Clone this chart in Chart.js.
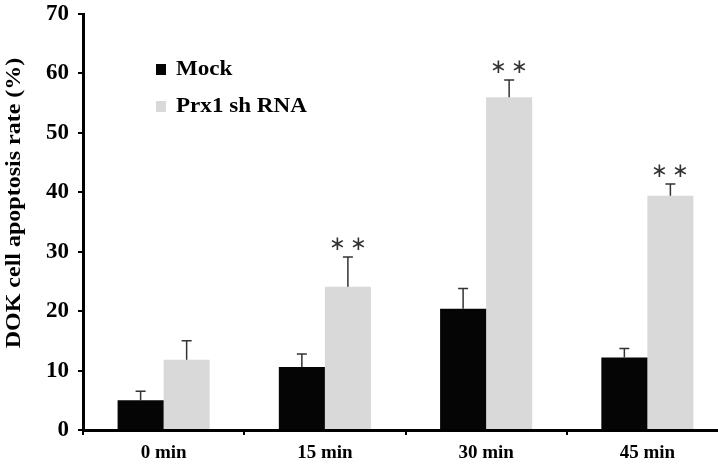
<!DOCTYPE html>
<html>
<head>
<meta charset="utf-8">
<script src="https://cdn.jsdelivr.net/npm/chart.js@4"></script>
<style>
  html, body { margin: 0; padding: 0; background: #fff; overflow: hidden; }
  /* the original plot runs a little past the right edge of the image */
  #wrap { width: 728px; height: 466px; }
</style>
</head>
<body>
<div id="wrap"><canvas id="c"></canvas></div>
<script>
// values
const categories = ['0 min', '15 min', '30 min', '45 min'];
const mockValues = [5.0, 10.6, 20.4, 12.2];
const mockErrors = [1.5, 2.2, 3.4, 1.5];
const prxValues = [11.8, 24.1, 56.0, 39.4];
const prxErrors = [3.2, 5.0, 2.9, 2.0];
const prxStars = ['', '**', '**', '**'];
const yTicks = [0, 10, 20, 30, 40, 50, 60, 70];

const serif = '"Liberation Serif", "Times New Roman", serif';

// upper error bars + significance marks
const errorBars = {
    id: 'errorBars',
    afterDatasetsDraw(chart) {
        const ctx = chart.ctx;
        const y = chart.scales.y;
        chart.data.datasets.forEach((ds, di) => {
            const meta = chart.getDatasetMeta(di);
            meta.data.forEach((bar, i) => {
                const top = y.getPixelForValue(ds.data[i] + ds.errors[i]);
                const base = y.getPixelForValue(ds.data[i]);
                ctx.save();
                ctx.strokeStyle = '#333';
                ctx.lineWidth = 1.5;
                ctx.beginPath();
                ctx.moveTo(bar.x, base);
                ctx.lineTo(bar.x, top);
                ctx.moveTo(bar.x - 5, top);
                ctx.lineTo(bar.x + 5, top);
                ctx.stroke();
                if (ds.stars && ds.stars[i]) {
                    ctx.fillStyle = '#333';
                    ctx.font = '20px ' + serif;
                    ctx.textAlign = 'center';
                    ctx.textBaseline = 'middle';
                    ctx.fillText('\u2217\u2009\u2217', bar.x, top - 12);
                }
                ctx.restore();
            });
        });
    }
};

// legend in upper left + rotated y title
const extras = {
    id: 'extras',
    afterDraw(chart) {
        const ctx = chart.ctx;
        ctx.save();
        ctx.font = 'bold 21px ' + serif;
        ctx.textBaseline = 'middle';
        chart.data.datasets.forEach((ds, i) => {
            const cy = 69 + i * 37;
            ctx.fillStyle = ds.backgroundColor;
            ctx.fillRect(156, cy - 5, 10, 11);
            ctx.fillStyle = '#000';
            ctx.save();
            ctx.translate(176, cy + 1);
            ctx.scale(1.1, 1);
            ctx.fillText(ds.label, 0, 0);
            ctx.restore();
        });
        ctx.translate(15, 203);
        ctx.rotate(-Math.PI / 2);
        ctx.scale(1.2, 1);
        ctx.font = 'bold 20px ' + serif;
        ctx.textAlign = 'center';
        ctx.fillText('DOK cell apoptosis rate (%)', 0, 0);
        ctx.restore();
    }
};

new Chart(document.getElementById('c'), {
    type: 'bar',
    data: {
        labels: categories,
        datasets: [{
            label: 'Mock',
            data: mockValues,
            errors: mockErrors,
            backgroundColor: '#050505'
        }, {
            label: 'Prx1 sh RNA',
            data: prxValues,
            errors: prxErrors,
            stars: prxStars,
            backgroundColor: '#d9d9d9'
        }]
    },
    options: {
        responsive: true,
        maintainAspectRatio: false,
        animation: false,
        layout: { padding: { top: 14, right: 0, left: 0, bottom: 0 } },
        datasets: { bar: { categoryPercentage: 0.571, barPercentage: 1.0 } },
        plugins: { legend: { display: false }, tooltip: { enabled: false } },
        scales: {
            x: {
                grid: { drawOnChartArea: false, color: '#000', lineWidth: 2, tickLength: 5 },
                border: { color: '#000', width: 3 },
                ticks: { color: '#000', font: { family: serif, size: 19, weight: 'bold' }, padding: 7 },
                afterFit(scale) {
                    scale.height = 36;
                    scale.paddingLeft = 0;
                    scale.paddingRight = 0;
                }
            },
            y: {
                min: 0,
                max: 70,
                afterBuildTicks(scale) { scale.ticks = yTicks.map(v => ({ value: v })); },
                grid: { drawOnChartArea: false, color: '#000', lineWidth: 2, tickLength: 5 },
                border: { color: '#000', width: 3 },
                ticks: { color: '#000', font: { family: serif, size: 23, weight: 'bold' }, padding: 9 },
                afterFit(scale) {
                    scale.width = 83;
                    scale.paddingTop = 0;
                    scale.paddingBottom = 0;
                }
            }
        }
    },
    plugins: [errorBars, extras]
});
</script>
</body>
</html>
